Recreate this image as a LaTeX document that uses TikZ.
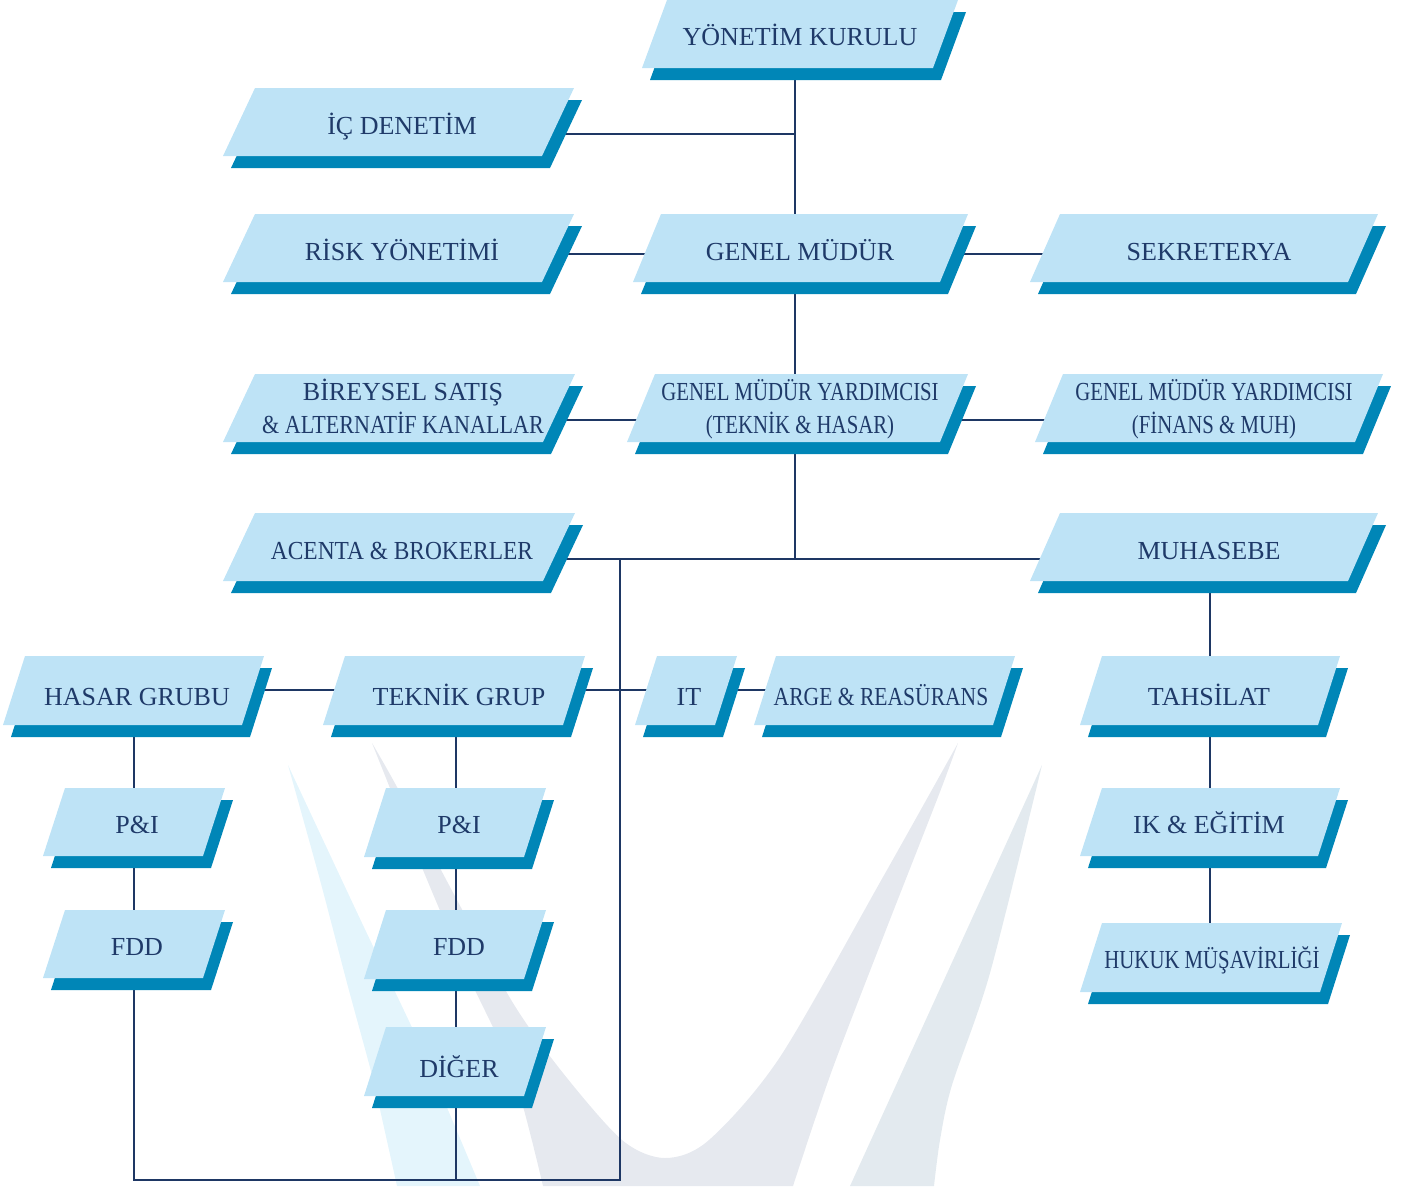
\documentclass[tikz,border=0pt]{standalone}
\usepackage{fontspec}
\setmainfont{Liberation Serif}
\usetikzlibrary{calc}
\definecolor{boxfill}{RGB}{190,227,246}
\definecolor{boxshadow}{RGB}{0,134,183}
\definecolor{boxtextc}{RGB}{31,58,105}
\definecolor{linec}{RGB}{30,55,100}
\definecolor{wmgray}{RGB}{230,233,239}
\definecolor{wmgrayb}{RGB}{227,234,239}
\definecolor{wmblue}{RGB}{228,245,252}
\pgfdeclarelayer{wm}
\pgfdeclarelayer{bg}
\pgfsetlayers{wm,bg,main}
\tikzset{
  boxtext/.style={text=boxtextc, font=\fontsize{26}{33}\selectfont, inner sep=0pt, align=center, text height=17.5pt, text depth=0pt},
  conn/.style={draw=linec, line width=2pt},
}
% name, BLx, BRx, top, bottom, slant, text position, text
\newcommand\orgbox[8]{%
  \fill[boxshadow] ({#2+8},{#5+12}) -- ({#3+8},{#5+12}) -- ({#3+8+#6},{#4+12}) -- ({#2+8+#6},{#4+12}) -- cycle;
  \fill[boxfill] (#2,#5) -- (#3,#5) -- ({#3+#6},#4) -- ({#2+#6},#4) -- cycle;
  \node[boxtext] (#1) at (#7) {#8};
}
\newcommand\cond[1]{\scalebox{0.8}[1]{#1}}
\begin{document}
\begin{tikzpicture}[x=1pt,y=-1pt]
\useasboundingbox (0,0) rectangle (1410,1186);
% watermark
\begin{pgfonlayer}{wm}
\fill[wmblue] plot[smooth] coordinates {(288,765) (320,880) (347,983) (372,1075) (383,1123) (397,1186)} -- (480,1186) -- plot[smooth] coordinates {(480,1186) (420,1045) (362,923) (288,765)} -- cycle;
\fill[wmgray] plot[smooth] coordinates {(372,743) (423,870) (467,973) (513,1073) (543,1186)} -- plot[smooth] coordinates {(793,1186) (831,1073) (882,940) (938,797) (958,743)} -- plot[smooth] coordinates {(958,743) (883,877) (780,1057) (709,1140) (665,1158) (622,1140) (563,1073) (513,1003) (457,900) (397,787) (372,743)} -- cycle;
\fill[wmgrayb] plot[smooth] coordinates {(1042,765) (990,973) (952,1085) (940,1140) (934,1186)} -- (850,1186) -- cycle;
\end{pgfonlayer}
% boxes
\orgbox{yk}{642}{933}{0}{68}{25}{800,37}{YÖNETİM KURULU}
\orgbox{ic}{223}{542}{88}{156}{32}{402,126}{İÇ DENETİM}
\orgbox{risk}{223}{542}{214}{282}{32}{402,252}{RİSK YÖNETİMİ}
\orgbox{gm}{633}{940}{214}{282}{28}{800,252}{GENEL MÜDÜR}
\orgbox{sek}{1030}{1348}{214}{282}{30}{1209,252}{SEKRETERYA}
\orgbox{bir}{223}{543}{374}{442}{32}{403,424.5}{BİREYSEL SATIŞ\\\scalebox{0.85}[1]{\& ALTERNATİF KANALLAR}}
\orgbox{gmy}{627}{940}{374}{442}{28}{800,424.5}{\cond{GENEL MÜDÜR YARDIMCISI}\\\cond{(TEKNİK \& HASAR)}}
\orgbox{gmyf}{1035}{1355}{374}{442}{28}{1214,424.5}{\cond{GENEL MÜDÜR YARDIMCISI}\\\cond{(FİNANS \& MUH)}}
\orgbox{ac}{223}{543}{513}{581}{32}{402,551}{\scalebox{0.9}[1]{ACENTA \& BROKERLER}}
\orgbox{mu}{1030}{1348}{513}{581}{30}{1209,551}{MUHASEBE}
\orgbox{has}{3}{242}{656}{725}{22}{137,697}{HASAR GRUBU}
\orgbox{tek}{323}{563}{656}{725}{22}{459,697}{TEKNİK GRUP}
\orgbox{it}{635}{715}{656}{725}{22}{689,697}{IT}
\orgbox{arge}{754}{993}{656}{725}{22}{881,697}{\scalebox{0.83}[1]{ARGE \& REASÜRANS}}
\orgbox{tah}{1080}{1318}{656}{725}{22}{1209,697}{TAHSİLAT}
\orgbox{pl}{43}{203}{788}{856}{22}{137,825}{P\&I}
\orgbox{fl}{43}{203}{910}{978}{22}{137,947}{FDD}
\orgbox{pm}{364}{524}{788}{857}{22}{459,825}{P\&I}
\orgbox{fm}{364}{524}{910}{979}{22}{459,947}{FDD}
\orgbox{dg}{364}{524}{1027}{1096}{22}{459,1069}{DİĞER}
\orgbox{ik}{1080}{1318}{788}{856}{22}{1209,825}{IK \& EĞİTİM}
\orgbox{huk}{1080}{1320}{923}{992}{22}{1212,960}{\cond{HUKUK MÜŞAVİRLİĞİ}}
% connectors
\coordinate (tr) at (795,0);
\coordinate (cB) at (620,0);
\coordinate (cL) at (134,0);
\coordinate (cM) at (456,0);
\coordinate (cR) at (1210,0);
\coordinate (h134) at (0,134);
\coordinate (h254) at (0,254);
\coordinate (h420) at (0,420);
\coordinate (h559) at (0,559);
\coordinate (h690) at (0,690);
\coordinate (h1180) at (0,1180);
\begin{pgfonlayer}{bg}
\draw[conn] (tr |- yk.center) -- (tr |- gmy.center) -- (tr |- h559);
\draw[conn] (ic.center |- h134) -- (tr |- h134);
\draw[conn] (risk.center |- h254) -- (sek.center |- h254);
\draw[conn] (bir.center |- h420) -- (gmyf.center |- h420);
\draw[conn] (ac.center |- h559) -- (mu.center |- h559);
\draw[conn] (cB |- h559) -- (cB |- h1180) -- (cL |- h1180) -- (cL |- has.center);
\draw[conn] (cM |- tek.center) -- (cM |- h1180);
\draw[conn] (has.center |- h690) -- (arge.center |- h690);
\draw[conn] (cR |- mu.center) -- (cR |- huk.center);
\end{pgfonlayer}
\end{tikzpicture}
\end{document}
